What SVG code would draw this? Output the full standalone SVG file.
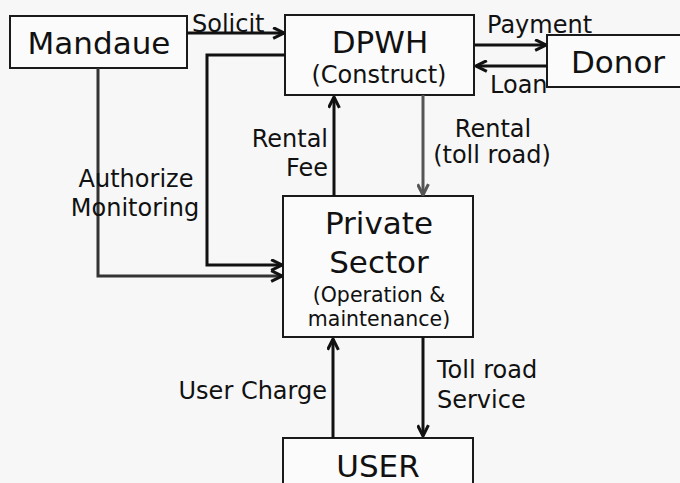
<svg xmlns="http://www.w3.org/2000/svg" width="680" height="483" viewBox="0 0 680 483">
<defs>
<marker id="arr" viewBox="0 0 12 12" refX="11" refY="6" markerWidth="13" markerHeight="13" markerUnits="userSpaceOnUse" orient="auto">
<path d="M1,1 L11,6 L1,11" fill="none" stroke="#111" stroke-width="2.8"/>
</marker>
<marker id="arrg" viewBox="0 0 12 12" refX="11" refY="6" markerWidth="13" markerHeight="13" markerUnits="userSpaceOnUse" orient="auto">
<path d="M1,1 L11,6 L1,11" fill="none" stroke="#555" stroke-width="2.8"/>
</marker>
</defs>
<style>
.box{fill:#fbfbfb;stroke:#1a1a1a;stroke-width:2}
.t{font-family:"DejaVu Sans",Verdana,sans-serif;fill:#111}
.big{font-size:31px}
.mid{font-size:24px}
.sm{font-size:20.5px}
.lab{font-size:24px}
.c{stroke:#111;stroke-width:3;fill:none}
.g{stroke:#555;stroke-width:3;fill:none}
.d{stroke:#333;stroke-width:3;fill:none}
</style>
<rect width="680" height="483" fill="#f7f7f7"/>
<g id="mandaue">
<rect class="box" x="10" y="16" width="177" height="52"/>
<text class="t big" x="99" y="54" text-anchor="middle">Mandaue</text>
</g>
<g id="dpwh">
<rect class="box" x="285" y="15" width="189" height="80"/>
<text class="t big" x="380" y="53" text-anchor="middle">DPWH</text>
<text class="t mid" x="379" y="83" text-anchor="middle">(Construct)</text>
</g>
<g id="donor">
<rect class="box" x="547" y="35" width="140" height="52"/>
<text class="t big" x="618" y="73" text-anchor="middle">Donor</text>
</g>
<g id="private">
<rect class="box" x="283" y="196" width="190" height="141"/>
<text class="t big" x="379" y="234" text-anchor="middle">Private</text>
<text class="t big" x="379" y="273" text-anchor="middle">Sector</text>
<text class="t sm" x="379" y="302" text-anchor="middle">(Operation &amp;</text>
<text class="t sm" x="379" y="326" text-anchor="middle">maintenance)</text>
</g>
<g id="user">
<rect class="box" x="283" y="438" width="190" height="60"/>
<text class="t big" x="378" y="477" text-anchor="middle">USER</text>
</g>
<g id="connectors">
<line class="c" x1="187" y1="33" x2="284" y2="33" marker-end="url(#arr)"/>
<line class="c" x1="475" y1="45" x2="546" y2="45" marker-end="url(#arr)"/>
<line class="c" x1="547" y1="66" x2="476" y2="66" marker-end="url(#arr)"/>
<line class="c" x1="334" y1="196" x2="334" y2="97" marker-end="url(#arr)"/>
<line class="g" x1="423" y1="95" x2="423" y2="195" marker-end="url(#arrg)"/>
<path class="c" d="M285,55 H207 V265 H282" marker-end="url(#arr)"/>
<path class="d" d="M98,68 V276 H282" marker-end="url(#arr)"/>
<line class="c" x1="333" y1="438" x2="333" y2="339" marker-end="url(#arr)"/>
<line class="c" x1="423" y1="337" x2="423" y2="436" marker-end="url(#arr)"/>
</g>
<g id="labels">
<text class="t lab" x="192" y="32">Solicit</text>
<text class="t lab" x="487" y="33">Payment</text>
<text class="t lab" x="490" y="93">Loan</text>
<text class="t lab" x="328" y="147" text-anchor="end">Rental</text>
<text class="t lab" x="328" y="176" text-anchor="end">Fee</text>
<text class="t lab" x="493" y="137" text-anchor="middle">Rental</text>
<text class="t lab" x="492" y="163" text-anchor="middle">(toll road)</text>
<text class="t lab" x="136" y="187" text-anchor="middle">Authorize</text>
<text class="t lab" x="135" y="216" text-anchor="middle">Monitoring</text>
<text class="t lab" x="327" y="399" text-anchor="end">User Charge</text>
<text class="t lab" x="437" y="378">Toll road</text>
<text class="t lab" x="437" y="408">Service</text>
</g>
</svg>
